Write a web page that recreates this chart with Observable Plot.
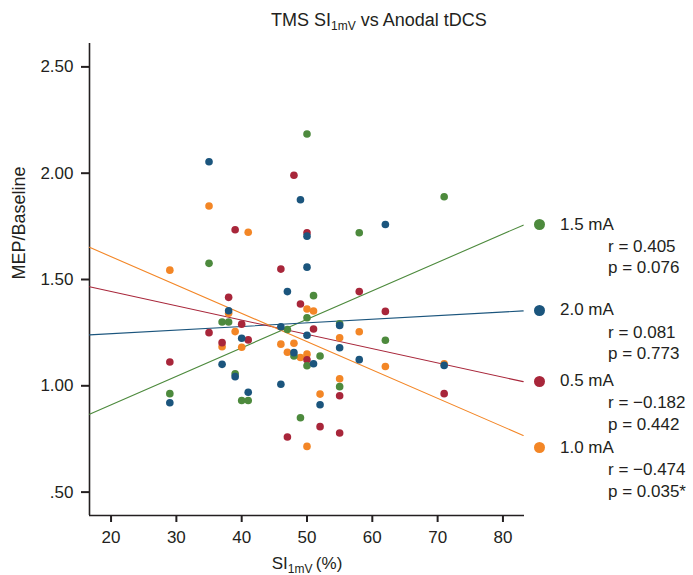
<!DOCTYPE html>
<html>
<head>
<meta charset="utf-8">
<script src="https://cdn.jsdelivr.net/npm/d3@7"></script>
<script src="https://cdn.jsdelivr.net/npm/@observablehq/plot@0.6"></script>
<style>
  body { margin: 0; background: #fff; font-family: "Liberation Sans", Arial, Helvetica, sans-serif; color: #231f20; }
  #wrap { position: relative; width: 693px; height: 575px; overflow: hidden; }
  #wrap svg { position: absolute; left: 0; top: 0; }
  .t { position: absolute; white-space: nowrap; line-height: 22px; }
  .sub { font-size: 12px; position: relative; top: 4px; }
  .ldot { position: absolute; width: 11px; height: 11px; border-radius: 50%; }
</style>
</head>
<body>
<div id="wrap"></div>
<script>
// ---- data ----
const groups = ["1.5 mA", "2.0 mA", "0.5 mA", "1.0 mA"];
const groupColors = ["#4d8a3d", "#1b557d", "#a8263a", "#f38626"];
const rValues = ["0.405", "0.081", "\u22120.182", "\u22120.474"];
const pValues = ["0.076", "0.773", "0.442", "0.035*"];

// regression lines: intercept and slope (MEP/Baseline vs SI%)
const fitIntercept = [0.643, 1.211, 1.578, 1.874];
const fitSlope = [0.01339, 0.0017, -0.00672, -0.01333];
const fitRange = [16.7, 83.1];

const green_x = [50, 71, 58, 35, 51, 50, 37, 38, 47, 29, 39, 40, 41, 48, 49, 55, 62, 52, 50, 55];
const green_y = [2.184, 1.889, 1.72, 1.576, 1.424, 1.32, 1.30, 1.30, 1.265, 0.963, 1.057, 0.931, 0.931, 1.14, 0.85, 1.292, 1.214, 1.14, 1.094, 0.996];

const blue_x = [35, 49, 50, 62, 50, 47, 38, 40, 46, 48, 37, 39, 41, 46, 29, 50, 55, 55, 58, 51, 71, 52];
const blue_y = [2.054, 1.875, 1.704, 1.759, 1.558, 1.443, 1.353, 1.224, 1.278, 1.156, 1.101, 1.043, 0.970, 1.007, 0.920, 1.238, 1.284, 1.179, 1.123, 1.104, 1.096, 0.911];

const red_x = [39, 48, 50, 46, 49, 38, 40, 41, 35, 37, 29, 47, 51, 58, 62, 50, 55, 52, 55, 71];
const red_y = [1.734, 1.99, 1.72, 1.549, 1.385, 1.416, 1.29, 1.216, 1.25, 1.203, 1.112, 0.759, 1.267, 1.443, 1.35, 1.122, 0.953, 0.808, 0.778, 0.963];

const orange_x = [35, 41, 29, 38, 39, 37, 40, 46, 47, 48, 49, 50, 51, 55, 58, 50, 62, 71, 55, 52, 50];
const orange_y = [1.846, 1.722, 1.544, 1.341, 1.255, 1.184, 1.181, 1.196, 1.158, 1.2, 1.133, 1.361, 1.352, 1.226, 1.254, 1.149, 1.091, 1.104, 1.033, 0.961, 0.715];

const xTicks = [20, 30, 40, 50, 60, 70, 80];
const yTicks = [0.5, 1.0, 1.5, 2.0, 2.5];
const yTickLabels = [".50", "1.00", "1.50", "2.00", "2.50"];

// ---- build tables ----
const series = {"1.5 mA": [green_x, green_y], "2.0 mA": [blue_x, blue_y], "0.5 mA": [red_x, red_y], "1.0 mA": [orange_x, orange_y]};
const drawOrder = ["1.0 mA", "0.5 mA", "1.5 mA", "2.0 mA"];
const points = drawOrder.flatMap(g => series[g][0].map((x, i) => ({group: g, x, y: series[g][1][i]})));
const fits = groups.flatMap((g, i) => fitRange.map(x => ({group: g, x, y: fitIntercept[i] + fitSlope[i] * x})));

const xDomain = [16.7, 83.3];
const yDomain = [0.39, 2.61];
const ink = "#231f20";

const plot = Plot.plot({
  width: 693,
  height: 575,
  marginLeft: 89,
  marginRight: 169,
  marginTop: 43,
  marginBottom: 60,
  style: {fontFamily: '"Liberation Sans", Arial, Helvetica, sans-serif', fontSize: "17px", color: ink, background: "transparent"},
  x: {domain: xDomain},
  y: {domain: yDomain},
  color: {domain: groups, range: groupColors},
  marks: [
    Plot.axisX({ticks: xTicks, tickSize: 7, tickPadding: 8, strokeWidth: 2, label: null, fontSize: 17}),
    Plot.axisY({ticks: yTicks, tickSize: 8, tickPadding: 8, strokeWidth: 2, label: null, fontSize: 17,
      tickFormat: d => yTickLabels[yTicks.indexOf(d)]}),
    Plot.ruleX([xDomain[0]], {stroke: ink, strokeWidth: 1.6}),
    Plot.ruleY([yDomain[0]], {stroke: ink, strokeWidth: 1.6}),
    Plot.text(["MEP/Baseline"], {frameAnchor: "left", dx: -70, rotate: -90, fontSize: 18, fill: ink}),
    Plot.line(fits, {x: "x", y: "y", z: "group", stroke: "group", strokeWidth: 1.1}),
    Plot.dot(points, {x: "x", y: "y", fill: "group", r: 3.8})
  ]
});

const wrap = document.getElementById("wrap");
wrap.appendChild(plot);

function addText(html, left, top, size) {
  const d = document.createElement("div");
  d.className = "t";
  d.style.left = left + "px";
  d.style.top = top + "px";
  d.style.fontSize = size + "px";
  d.innerHTML = html;
  wrap.appendChild(d);
  return d;
}

// title and x label (with subscripts)
addText('TMS SI<span class="sub">1mV</span> vs Anodal tDCS', 271, 9, 18);
const xl = addText('SI<span class="sub">1mV</span>\u2009(%)', 0, 553, 17);
xl.style.left = "207px"; xl.style.width = "200px"; xl.style.textAlign = "center";

// legend placed at each line's right end, pushed down to avoid overlap
const ys = plot.scale("y");
let prev = -Infinity;
groups.forEach((g, i) => {
  let y = ys.apply(fitIntercept[i] + fitSlope[i] * fitRange[1]);
  y = Math.max(y, prev + 66.6);
  prev = y;
  const dot = document.createElement("div");
  dot.className = "ldot";
  dot.style.left = (539.3 - 5.5) + "px";
  dot.style.top = (y - 5.5) + "px";
  dot.style.background = groupColors[i];
  wrap.appendChild(dot);
  addText(g, 560, y - 11, 17);
  addText("r = " + rValues[i], 608, y + 22.2 - 11, 17);
  addText("p = " + pValues[i], 608, y + 43.8 - 11, 17);
});
</script>
</body>
</html>
